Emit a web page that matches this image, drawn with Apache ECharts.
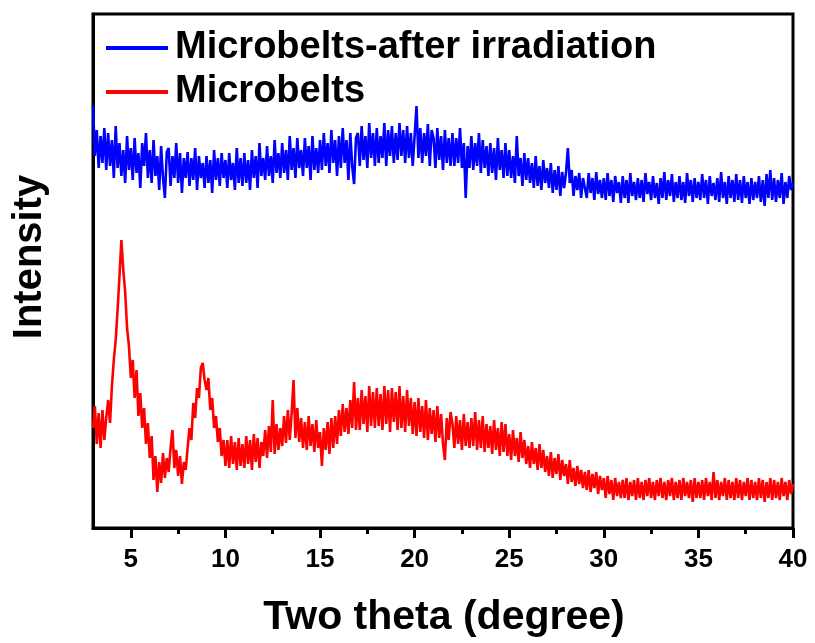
<!DOCTYPE html>
<html>
<head>
<meta charset="utf-8">
<script src="https://cdn.jsdelivr.net/npm/echarts@6/dist/echarts.min.js"></script>
<style>html,body{margin:0;padding:0;background:#fff;}#main{width:815px;height:643px;}</style>
</head>
<body>
<div id="main"></div>
<script>
// Scan grid (two theta, degrees)
var thetaStart = 3.0;
var thetaStep = 0.1;
var xTicks = [5, 10, 15, 20, 25, 30, 35, 40];
var xMinorTicks = [7.5, 12.5, 17.5, 22.5, 27.5, 32.5, 37.5];
var seriesNames = ['Microbelts-after irradiation', 'Microbelts'];

// Intensity (arb. units), one row per degree: 3.0..3.9, 4.0..4.9, ...
var afterIrradiation = [
  423,372,398,360,392,365,400,358,395,362,
  388,350,402,360,385,352,378,345,392,358,
  380,348,390,355,375,340,385,362,395,350,
  378,345,388,352,372,338,382,350,330,376,
  380,342,372,350,385,345,375,335,370,350,
  376,342,370,348,380,338,372,350,365,340,
  372,345,368,335,378,348,370,342,375,350,
  368,340,375,348,365,338,380,345,370,342,
  375,345,368,338,378,350,372,340,385,352,
  370,348,382,352,372,345,388,355,375,350,
  385,355,378,348,392,358,380,350,390,360,
  378,352,390,360,382,348,392,358,380,355,
  388,358,395,362,385,355,398,365,388,352,
  392,360,400,365,388,348,395,362,344,390,
  395,362,402,368,392,360,405,370,395,362,
  400,365,392,370,405,362,398,372,402,365,
  395,368,405,372,398,365,402,370,395,362,
  392,422,370,400,365,395,372,404,362,398,
  390,360,400,368,392,358,398,365,390,362,
  395,362,390,365,400,360,385,330,382,360,
  392,358,385,362,395,355,388,360,382,352,
  385,355,380,348,390,358,378,350,385,352,
  378,350,372,345,392,352,370,342,375,348,
  370,345,365,340,372,342,362,338,368,345,
  360,340,365,335,358,338,362,332,356,340,
  355,380,345,358,332,352,338,355,330,350,
  352,330,355,335,350,328,356,334,348,330,
  350,328,355,332,348,326,352,335,346,325,
  352,330,348,325,355,332,346,328,350,330,
  348,326,355,334,346,328,352,330,345,324,
  350,330,356,328,348,332,354,326,346,330,
  352,328,346,325,355,332,348,326,350,330,
  346,328,354,330,348,324,352,332,345,328,
  350,326,356,330,346,324,352,330,348,326,
  354,328,348,325,352,330,346,324,350,328,
  346,330,352,326,348,322,354,330,358,328,
  350,326,348,330,355,324,346,330,352,338,
  345
];
var microbelts = [
  100,122,84,115,80,118,88,110,128,105,
  142,168,188,218,252,288,258,236,200,182,
  150,168,130,158,112,135,100,120,84,105,
  70,92,48,72,36,66,45,75,50,70,
  56,80,98,60,78,52,72,44,66,58,
  80,100,88,125,110,140,130,160,165,148,
  138,150,118,130,100,112,86,100,72,88,
  62,88,60,92,64,86,58,90,62,84,
  60,92,64,88,58,94,66,90,60,86,
  72,98,70,102,76,128,74,104,78,100,
  82,112,85,118,88,115,148,90,120,86,
  110,80,106,78,112,82,104,76,108,80,
  96,62,100,78,106,74,110,80,112,84,
  118,92,124,96,120,94,128,100,146,98,
  130,98,138,104,132,96,142,102,136,100,
  140,102,134,98,142,104,138,96,140,106,
  136,98,142,100,132,96,138,102,130,94,
  126,92,130,96,122,90,128,88,120,94,
  118,86,122,90,114,84,68,110,88,116,
  104,80,112,84,108,78,114,82,106,80,
  110,82,116,78,108,80,112,76,104,80,
  102,74,108,78,100,72,106,76,104,72,
  94,68,98,72,90,66,96,70,88,64,
  82,60,86,64,80,58,84,60,78,56,
  72,52,76,50,70,54,74,48,68,52,
  64,44,68,46,60,42,62,44,58,40,
  56,38,58,36,54,40,56,34,52,38,
  50,30,52,34,48,28,50,32,46,30,
  48,30,50,28,46,32,48,28,50,30,
  46,28,48,32,50,30,46,28,48,32,
  50,30,46,28,48,32,50,28,46,30,
  48,28,50,32,46,30,48,26,50,30,
  46,30,48,28,50,32,46,28,56,30,
  48,28,46,32,50,28,48,30,46,28,
  50,30,48,28,46,32,50,28,48,30,
  46,28,50,30,48,26,46,30,50,28,
  48,30,46,28,50,32,46,28,48,34,
  44
];

function pairs(vals) {
  return vals.map(function (v, i) {
    return [Math.round((thetaStart + i * thetaStep) * 10) / 10, v];
  });
}

var FONT = '"Liberation Sans", Arial, sans-serif';
var chart = echarts.init(document.getElementById('main'), null, {renderer: 'canvas'});
chart.setOption({
  animation: false,
  backgroundColor: '#ffffff',
  grid: {left: 93, right: 22, top: 14, bottom: 115, show: true, borderColor: '#000', borderWidth: 3, containLabel: false},
  legend: {
    orient: 'vertical', left: 101, top: 24, itemGap: 6,
    itemWidth: 62, itemHeight: 4, icon: 'rect',
    textStyle: {fontFamily: FONT, fontWeight: 'bold', fontSize: 38, color: '#000', padding: [0, 0, 0, 2]},
    data: seriesNames
  },
  xAxis: [{
    type: 'value', min: 3, max: 40,
    axisLine: {show: true, lineStyle: {color: '#000', width: 3}},
    axisTick: {show: true, inside: false, length: 10, lineStyle: {color: '#000', width: 3}, customValues: xTicks},
    axisLabel: {show: true, margin: 19, fontFamily: FONT, fontWeight: 'bold', fontSize: 26, color: '#000', customValues: xTicks},
    splitLine: {show: false}
  }, {
    type: 'value', min: 3, max: 40, position: 'bottom',
    axisLine: {show: false},
    axisTick: {show: true, inside: false, length: 6, lineStyle: {color: '#000', width: 3}, customValues: xMinorTicks},
    axisLabel: {show: false},
    splitLine: {show: false}
  }],
  yAxis: {
    type: 'value', min: 0, max: 514,
    axisLine: {show: true, lineStyle: {color: '#000', width: 3}},
    axisTick: {show: false}, axisLabel: {show: false}, splitLine: {show: false}
  },
  graphic: [
    {type: 'text', x: 30, y: 257, rotation: Math.PI / 2,
     style: {text: 'Intensity', font: 'bold 40px ' + FONT, fill: '#000', align: 'center', verticalAlign: 'middle'}},
    {type: 'text', x: 444, y: 618,
     style: {text: 'Two theta (degree)', font: 'bold 41px ' + FONT, fill: '#000', align: 'center', verticalAlign: 'middle'}}
  ],
  series: [{
    name: seriesNames[0], type: 'line', data: pairs(afterIrradiation),
    showSymbol: false, symbol: 'none', color: '#0000ff',
    lineStyle: {color: '#0000ff', width: 2.6}
  }, {
    name: seriesNames[1], type: 'line', data: pairs(microbelts),
    showSymbol: false, symbol: 'none', color: '#ff0000',
    lineStyle: {color: '#ff0000', width: 2.6}
  }]
});
</script>
</body>
</html>
